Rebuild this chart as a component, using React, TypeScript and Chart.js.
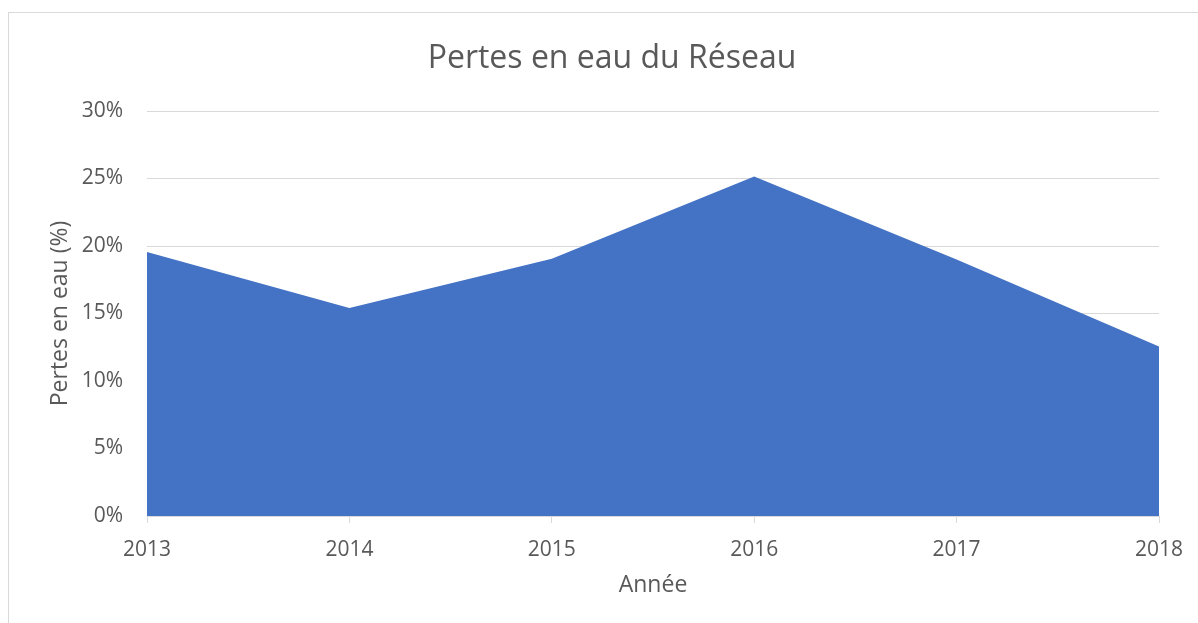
import React, { useEffect, useRef } from "react";
import { Chart, registerables } from "chart.js";

Chart.register(...registerables);

const years = ["2013", "2014", "2015", "2016", "2017", "2018"];
const pertes = [19.55, 15.4, 19.05, 25.15, 19.0, 12.55];
const yTicks = [0, 5, 10, 15, 20, 25, 30];

const chartTitle = "Pertes en eau du Réseau";
const xTitle = "Année";
const yTitle = "Pertes en eau (%)";

const TEXT = "#595959";
const GRID = "#d9d9d9";
const FONT = "'Open Sans', 'Noto Sans', sans-serif";

const titlePlugin = {
  id: "customTitle",
  afterDraw(chart: any) {
    const ctx = chart.ctx;
    ctx.save();
    ctx.fillStyle = TEXT;
    ctx.font = `32px ${FONT}`;
    ctx.textAlign = "center";
    ctx.textBaseline = "alphabetic";
    ctx.fillText(chartTitle, 612, 68);
    ctx.restore();
  },
};

export default function App() {
  const ref = useRef<HTMLCanvasElement | null>(null);

  useEffect(() => {
    if (!ref.current) return;
    const chart = new Chart(ref.current, {
      type: "line",
      data: {
        labels: years,
        datasets: [
          {
            data: pertes,
            fill: "origin",
            backgroundColor: "#4472C4",
            borderColor: "#4472C4",
            borderWidth: 0,
            pointRadius: 0,
            tension: 0,
          },
        ],
      },
      options: {
        animation: false,
        responsive: false,
        maintainAspectRatio: false,
        layout: { padding: { top: 111, left: 0, right: 39, bottom: 0 } },
        plugins: {
          legend: { display: false },
          tooltip: { enabled: false },
        },
        scales: {
          x: {
            type: "category",
            offset: false,
            afterFit: (s: any) => {
              s.height = 107;
            },
            grid: {
              display: true,
              drawOnChartArea: false,
              drawTicks: true,
              tickLength: 7,
              color: GRID,
              lineWidth: 1,
            },
            border: { display: true, color: GRID, width: 1 },
            ticks: {
              color: TEXT,
              font: { family: FONT, size: 21 },
              padding: 14,
              maxRotation: 0,
              autoSkip: false,
            },
            title: {
              display: true,
              text: xTitle,
              color: TEXT,
              font: { family: FONT, size: 23 },
              padding: { top: 0, bottom: 24 },
            },
          },
          y: {
            min: 0,
            max: 30,
            afterFit: (s: any) => {
              s.width = 147;
            },
            afterBuildTicks: (s: any) => {
              s.ticks = yTicks.map((v) => ({ value: v }));
            },
            grid: {
              color: GRID,
              lineWidth: 1,
              drawTicks: false,
            },
            border: { display: false },
            ticks: {
              color: TEXT,
              font: { family: FONT, size: 21 },
              padding: 24,
              callback: (v: any) => `${v}%`,
            },
            title: {
              display: true,
              text: yTitle,
              color: TEXT,
              font: { family: FONT, size: 23 },
              padding: { top: 47, bottom: 0 },
            },
          },
        },
      },
      plugins: [titlePlugin],
    });
    return () => chart.destroy();
  }, []);

  return (
    <div
      style={{
        position: "fixed",
        left: 0,
        top: 0,
        width: 1198,
        height: 623,
        overflow: "hidden",
        background: "#ffffff",
      }}
    >
      <div
        style={{
          position: "absolute",
          left: 8,
          top: 12,
          width: 2000,
          height: 2000,
          border: `1px solid ${GRID}`,
          boxSizing: "border-box",
        }}
      />
      <canvas
        ref={ref}
        width={1198}
        height={623}
        style={{ position: "absolute", left: 0, top: 0, width: 1198, height: 623 }}
      />
    </div>
  );
}
